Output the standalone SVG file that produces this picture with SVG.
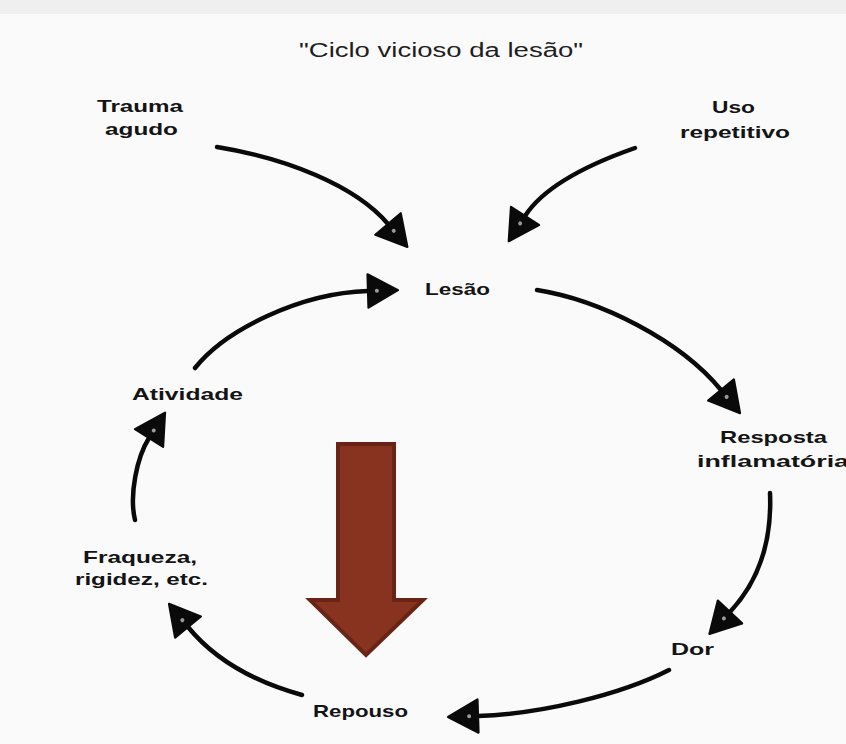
<svg xmlns="http://www.w3.org/2000/svg" width="846" height="744" viewBox="0 0 846 744">
<defs>
<style>
.title{font-family:"Liberation Sans","DejaVu Sans",sans-serif;font-size:20px;fill:#1e1e1e}
.lbl{font-family:"Liberation Sans","DejaVu Sans",sans-serif;font-size:17px;font-weight:bold;fill:#141414}
.conn{fill:none;stroke:#0a0a0a;stroke-width:4.5;stroke-linecap:round}
</style>
<marker id="ah" markerUnits="userSpaceOnUse" markerWidth="40" markerHeight="40" viewBox="-2 -18 34 36" refX="0" refY="0" orient="auto">
<path d="M0,-15 L27,0 L0,15 Z" fill="#0a0a0a" stroke="#0a0a0a" stroke-width="2" stroke-linejoin="round"/>
<circle cx="8" cy="0" r="1.8" fill="#9a9a9a"/>
</marker>
</defs>
<rect x="0" y="0" width="846" height="744" fill="#fafafa"/>
<rect x="0" y="0" width="846" height="14" fill="#efefef"/>

<g id="title"><text class="title" x="299" y="57" textLength="284" lengthAdjust="spacingAndGlyphs">"Ciclo vicioso da lesão"</text></g>

<g id="connectors">
<path class="conn" d="M217,147 C285,158 355,185 388,224" marker-end="url(#ah)"/>
<path class="conn" d="M635,148 C595,162 545,185 525,216" marker-end="url(#ah)"/>
<path class="conn" d="M195,368 C225,330 300,293 368,291" marker-end="url(#ah)"/>
<path class="conn" d="M537,290 C600,300 680,340 721,390" marker-end="url(#ah)"/>
<path class="conn" d="M770,493 C772,540 760,580 730,612" marker-end="url(#ah)"/>
<path class="conn" d="M669,670 C620,695 540,714 478,716" marker-end="url(#ah)"/>
<path class="conn" d="M302,695 C255,682 215,660 188,627" marker-end="url(#ah)"/>
<path class="conn" d="M135,520 C129,495 137,457 149,438" marker-end="url(#ah)"/>
</g>

<g id="trauma-agudo">
<text class="lbl" x="97" y="112" textLength="86" lengthAdjust="spacingAndGlyphs">Trauma</text>
<text class="lbl" x="105" y="135" textLength="73" lengthAdjust="spacingAndGlyphs">agudo</text>
</g>
<g id="uso-repetitivo">
<text class="lbl" x="712" y="113" textLength="43" lengthAdjust="spacingAndGlyphs">Uso</text>
<text class="lbl" x="680" y="138" textLength="110" lengthAdjust="spacingAndGlyphs">repetitivo</text>
</g>
<g id="lesao">
<text class="lbl" x="425" y="295" textLength="65" lengthAdjust="spacingAndGlyphs">Lesão</text>
</g>
<g id="resposta-inflamatoria">
<text class="lbl" x="720" y="443" textLength="107" lengthAdjust="spacingAndGlyphs">Resposta</text>
<text class="lbl" x="697" y="467" textLength="152" lengthAdjust="spacingAndGlyphs">inflamatória</text>
</g>
<g id="dor">
<text class="lbl" x="671" y="655" textLength="43" lengthAdjust="spacingAndGlyphs">Dor</text>
</g>
<g id="repouso">
<text class="lbl" x="313" y="717" textLength="95" lengthAdjust="spacingAndGlyphs">Repouso</text>
</g>
<g id="fraqueza">
<text class="lbl" x="83" y="563" textLength="114" lengthAdjust="spacingAndGlyphs">Fraqueza,</text>
<text class="lbl" x="75" y="585" textLength="133" lengthAdjust="spacingAndGlyphs">rigidez, etc.</text>
</g>
<g id="atividade">
<text class="lbl" x="132" y="400" textLength="111" lengthAdjust="spacingAndGlyphs">Atividade</text>
</g>

<g id="down-arrow">
<path d="M338,444 H394 V600 H423 L366,655 L310,600 H338 Z" fill="#87331f" stroke="#6a2416" stroke-width="4" stroke-linejoin="miter"/>
</g>
</svg>
